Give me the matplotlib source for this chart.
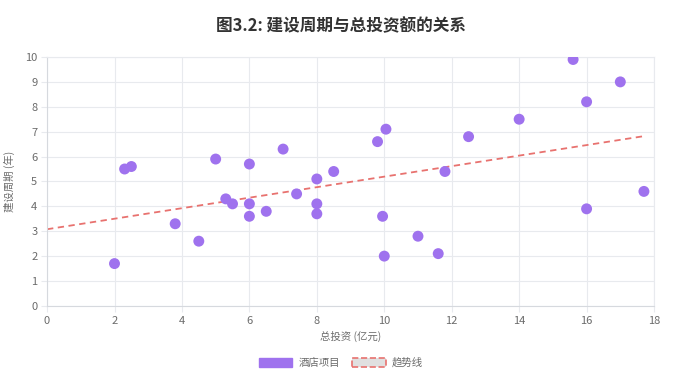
import matplotlib
matplotlib.use('Agg')
import matplotlib.pyplot as plt
from matplotlib.patches import Patch

plt.rcParams['font.family'] = ['Noto Sans CJK SC', 'DejaVu Sans']

# --- dữ liệu ---
invest = [2, 2.3, 2.5, 3.8, 4.5, 5, 5.3, 5.5, 6, 6, 6, 6.5, 7, 7.4, 8, 8, 8,
          8.5, 9.8, 10.05, 9.95, 10, 11, 11.6, 11.8, 12.5, 14, 15.6, 16, 16, 17, 17.7]
period = [1.7, 5.5, 5.6, 3.3, 2.6, 5.9, 4.3, 4.1, 5.7, 4.1, 3.6, 3.8, 6.3, 4.5, 5.1, 4.1, 3.7,
          5.4, 6.6, 7.1, 3.6, 2.0, 2.8, 2.1, 5.4, 6.8, 7.5, 9.9, 8.2, 3.9, 9.0, 4.6]
trend_x = [0, 17.7]
trend_y = [3.08, 6.82]

title = '图3.2: 建设周期与总投资额的关系'
xlabel = '总投资 (亿元)'
ylabel = '建设周期 (年)'
labels = ['酒店项目', '趋势线']

purple = '#9f72ee'
red = '#e8726f'
grid_c = '#e8eaee'
text_c = '#6b6b6b'

fig = plt.figure(figsize=(6.82, 3.80), dpi=100)
ax = fig.add_axes([0.069, 0.195, 0.89, 0.655])

ax.scatter(invest, period, s=62, color=purple, edgecolors='none', zorder=3)
ax.plot(trend_x, trend_y, color=red, lw=1.3, ls=(0, (3.5, 2.5)), zorder=2)

ax.set_xlim(0, 18)
ax.set_ylim(0, 10)
ax.set_xticks(range(0, 19, 2))
ax.set_yticks(range(0, 11))
ax.grid(True, color=grid_c, lw=0.8)
ax.set_axisbelow(True)
for s in ax.spines.values():
    s.set_color(grid_c)
ax.spines['left'].set_color('#d6d9de')
ax.spines['bottom'].set_color('#d6d9de')
ax.tick_params(colors=text_c, labelsize=8, length=4, color=grid_c, pad=3)

ax.set_xlabel(xlabel, fontsize=7.5, color=text_c, labelpad=4)
ax.set_ylabel(ylabel, fontsize=7.5, color=text_c, labelpad=7)
fig.suptitle(title, fontsize=12, fontweight='bold', color='#333333', y=0.955)

handles = [Patch(facecolor=purple, edgecolor=purple),
           Patch(facecolor='#e0e0e0', edgecolor=red, ls='--', lw=1.2)]
fig.legend(handles, labels, loc='center', bbox_to_anchor=(0.5, 0.045), ncol=2,
           frameon=False, fontsize=7.5, labelcolor=text_c, handlelength=3.2,
           handleheight=1.0, columnspacing=1.2, handletextpad=0.6)

fig.savefig('out.png', dpi=100)
